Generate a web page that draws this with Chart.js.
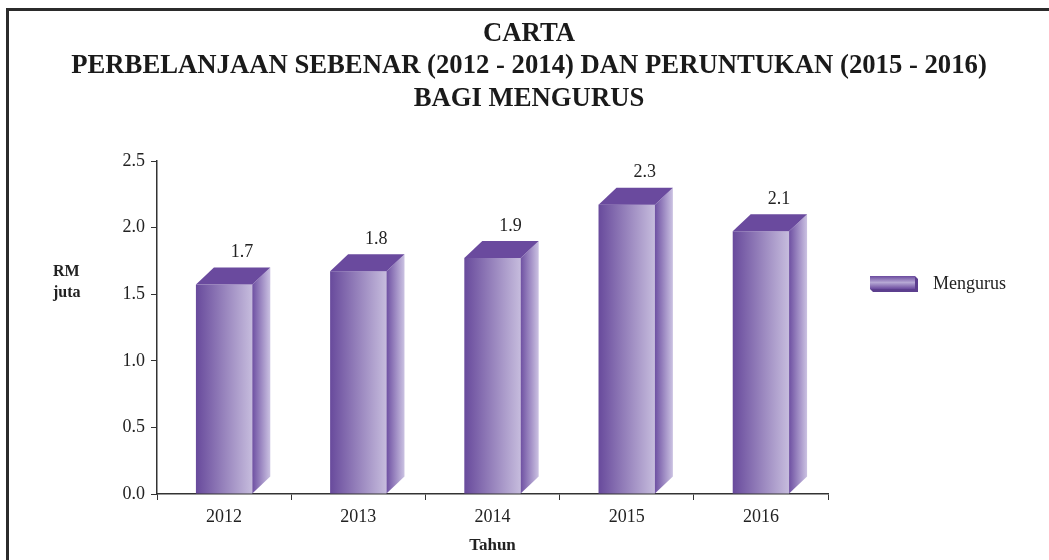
<!DOCTYPE html>
<html>
<head>
<meta charset="utf-8">
<script src="https://cdn.jsdelivr.net/npm/chart.js@4.4.1/dist/chart.umd.min.js"></script>
<style>
  body { margin: 0; background: #fff; }
  #wrap { position: relative; width: 1049px; height: 560px; }
  #frame { position: absolute; left: 6px; top: 8px; right: 0; bottom: 0; border-left: 3px solid #2b2b2b; border-top: 3px solid #2b2b2b; pointer-events: none; }
</style>
</head>
<body>
<div id="wrap">
  <canvas id="chart" width="1049" height="560"></canvas>
  <div id="frame"></div>
</div>
<script>
// DATA
const years = ['2012', '2013', '2014', '2015', '2016'];
const mengurus = [1.7, 1.8, 1.9, 2.3, 2.1];
const yTicks = [0, 0.5, 1.0, 1.5, 2.0, 2.5];

const titleLines = [
    'CARTA',
    'PERBELANJAAN SEBENAR (2012 - 2014) DAN PERUNTUKAN (2015 - 2016)',
    'BAGI MENGURUS'
];

const serif = '"Liberation Serif", "Times New Roman", serif';
const dark = '#684a9c';
const light = '#c6bcdd';
const depthX = 18, depthY = 17;

// title is drawn over the whole page width, not just the plot
const pageTitle = {
    id: 'pageTitle',
    afterDraw(chart) {
        const ctx = chart.ctx;
        ctx.save();
        ctx.fillStyle = '#1a1a1a';
        ctx.font = 'bold 26.7px ' + serif;
        ctx.textAlign = 'center';
        ctx.textBaseline = 'middle';
        titleLines.forEach((t, i) => {
            ctx.fillText(t, 529, 34 + i * 32.5);
        });
        ctx.restore();
    }
};

// draws the 3d columns, value labels, legend and the "RM juta" note
const bars3d = {
    id: 'bars3d',
    afterDatasetsDraw(chart) {
        const ctx = chart.ctx;
        const meta = chart.getDatasetMeta(0);
        ctx.save();
        meta.data.forEach((bar, i) => {
            let left = bar.x - bar.width / 2;
            let right = bar.x + bar.width / 2;
            let top = bar.y;
            let base = bar.base;

            // front
            let g = ctx.createLinearGradient(left, 0, right, 0);
            g.addColorStop(0, dark);
            g.addColorStop(1, light);
            ctx.fillStyle = g;
            ctx.fillRect(left, top + depthY, right - left, base - top - depthY);

            // side
            g = ctx.createLinearGradient(right, 0, right + depthX, 0);
            g.addColorStop(0, '#6e50a2');
            g.addColorStop(1, '#cbc2e2');
            ctx.fillStyle = g;
            ctx.beginPath();
            ctx.moveTo(right, top + depthY);
            ctx.lineTo(right + depthX, top);
            ctx.lineTo(right + depthX, base - depthY);
            ctx.lineTo(right, base);
            ctx.closePath();
            ctx.fill();

            // top
            ctx.fillStyle = '#6a4a9e';
            ctx.beginPath();
            ctx.moveTo(left, top + depthY);
            ctx.lineTo(left + depthX, top);
            ctx.lineTo(right + depthX, top);
            ctx.lineTo(right, top + depthY);
            ctx.closePath();
            ctx.fill();

            // value label
            ctx.fillStyle = '#222';
            ctx.font = '18px ' + serif;
            ctx.textAlign = 'center';
            ctx.textBaseline = 'middle';
            ctx.fillText(mengurus[i].toFixed(1), bar.x + depthX, top - 15);
        });

        // legend
        let lx = 870, ly = 276, lw = 45, lh = 13;
        let g = ctx.createLinearGradient(0, ly, 0, ly + lh);
        g.addColorStop(0, '#6a4a9e');
        g.addColorStop(0.5, '#b6a8d4');
        g.addColorStop(1, '#6a4a9e');
        ctx.fillStyle = '#5c3f8e';
        ctx.beginPath();
        ctx.moveTo(lx + lw, ly);
        ctx.lineTo(lx + lw + 3, ly + 3);
        ctx.lineTo(lx + lw + 3, ly + lh + 3);
        ctx.lineTo(lx + 3, ly + lh + 3);
        ctx.lineTo(lx, ly + lh);
        ctx.closePath();
        ctx.fill();
        ctx.fillStyle = g;
        ctx.fillRect(lx, ly, lw, lh);

        ctx.fillStyle = '#222';
        ctx.font = '18px ' + serif;
        ctx.textAlign = 'left';
        ctx.textBaseline = 'middle';
        ctx.fillText('Mengurus', 933, 284);

        // y unit note
        ctx.font = 'bold 16px ' + serif;
        ctx.fillText('RM', 53, 272);
        ctx.fillText('juta', 53, 293);
        ctx.restore();
    }
};

let ct = document.querySelector('#chart').getContext('2d');

let chart = new Chart(ct, {
    type: 'bar',
    data: {
        labels: years,
        datasets: [{
            label: 'Mengurus',
            data: mengurus,
            backgroundColor: 'rgba(0,0,0,0)',
            borderWidth: 0,
            barPercentage: 0.42,
            categoryPercentage: 1
        }]
    },
    options: {
        responsive: false,
        animation: false,
        layout: {
            padding: { left: 77, right: 221, top: 161, bottom: 0 }
        },
        plugins: {
            legend: { display: false },
            tooltip: { enabled: false },
            title: { display: false }
        },
        scales: {
            x: {
                grid: { display: true, drawOnChartArea: false, drawTicks: true, tickLength: 6, color: '#333', offset: true },
                border: { display: true, color: '#333', width: 1.5 },
                ticks: { color: '#222', font: { family: serif, size: 18 }, padding: 6 },
                title: {
                    display: true,
                    text: 'Tahun',
                    color: '#222',
                    font: { family: serif, size: 17, weight: 'bold', lineHeight: 1.2 },
                    padding: { top: 4, bottom: 4 }
                },
                afterFit: (scale) => { scale.height = 66; }
            },
            y: {
                min: 0,
                max: 2.5,
                afterBuildTicks: (scale) => { scale.ticks = yTicks.map(v => ({ value: v })); },
                grid: { display: true, drawOnChartArea: false, drawTicks: true, tickLength: 6, color: '#333' },
                border: { display: true, color: '#333', width: 1.5 },
                ticks: {
                    color: '#222',
                    font: { family: serif, size: 18 },
                    padding: 6,
                    callback: (v) => Number(v).toFixed(1)
                },
                afterFit: (scale) => { scale.width = 80; }
            }
        }
    },
    plugins: [bars3d, pageTitle]
});
</script>
</body>
</html>
